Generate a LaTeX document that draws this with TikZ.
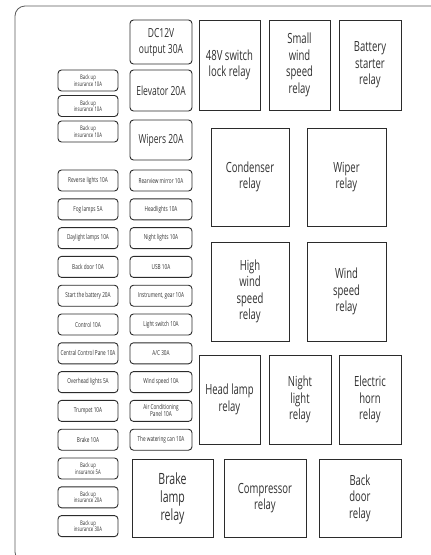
\documentclass[tikz,border=0pt]{standalone}
\usepackage{fontspec}
\setmainfont{Open Sans}[FakeStretch=0.68]
\usetikzlibrary{positioning}
\definecolor{cframe}{HTML}{5A5A5A}
\definecolor{cline}{HTML}{2B2B2B}
\definecolor{ctext}{HTML}{303030}
\tikzset{
  fusebox/.style={draw=cline, line width=0.9pt, rounded corners=3.5pt, minimum width=60pt, minimum height=21pt, inner sep=0pt, align=center, text=ctext, font=\fontsize{6.9}{7}\selectfont},
  spare/.style={fusebox, font=\fontsize{6.3}{6.3}\selectfont},
  midfuse/.style={fusebox, minimum width=62pt},
  bigfuse/.style={fusebox, minimum width=62pt, font=\fontsize{12.5}{16}\selectfont},
  relaybox/.style={draw=cline, line width=1pt, inner sep=0pt, align=center, text=ctext, font=\fontsize{14}{16.5}\selectfont},
}

\begin{document}
\begin{tikzpicture}[x=1pt, y=-1pt]
\useasboundingbox (0,0) rectangle (431,555);
\draw[cframe, line width=0.8pt, rounded corners=10pt] (15,6) rectangle (445,562);
% top fuses
\node[bigfuse, minimum height=44pt] (dc) at (161,42) {DC12V\\output 30A};
\node[bigfuse, minimum height=41pt] (elev) at (161,90.5) {Elevator 20A};
\node[bigfuse, minimum height=40pt] (wip) at (161,140) {Wipers 20A};
\foreach \i in {0,1,2}
  \node[spare] (bk\i) at (88,80.5+25.5*\i) {Back up\\insurance 10A};
% left fuse column
\foreach \lab [count=\i from 0] in {Reverse lights 10A, Fog lamps 5A, Daylight lamps 10A, Back door 10A, Start the battery 20A, Control 10A, Central Control Pane 10A, Overhead lights 5A, Trumpet 10A, Brake 10A}
  \node[fusebox] (lf\i) at (88,180.5+28.8*\i) {\lab};
\foreach \lab [count=\i from 10] in {5A, 20A, 30A}
  \node[spare] (lf\i) at (88,180.5+28.8*\i) {Back up\\insurance \lab};
% middle fuse column
\foreach \lab [count=\i from 0] in {Rearview mirror 10A, Headlights 10A, Night lights 10A, USB 10A, {Instrument, gear 10A}, Light switch 10A, A/C 30A, Wind speed 10A, {Air Conditioning\\Panel 10A}, The watering can 10A}
  \node[midfuse] (mf\i) at (161,180.5+28.8*\i) {\lab};
% relays
\node[relaybox, minimum width=61pt, minimum height=90pt] (sw48) at (229.5,65) {48V switch\\lock relay};
\node[relaybox, minimum width=61pt, minimum height=90pt] (swind) at (299.5,65) {Small\\wind\\speed\\relay};
\node[relaybox, minimum width=62pt, minimum height=90pt] (batt) at (370,65) {Battery\\starter\\relay};
\node[relaybox, minimum width=78pt, minimum height=98pt] (cond) at (250,177) {Condenser\\relay};
\node[relaybox, minimum width=79pt, minimum height=98pt] (wiper) at (346.5,177) {Wiper\\relay};
\node[relaybox, minimum width=78pt, minimum height=99pt] (hwind) at (250,291.5) {High\\wind\\speed\\relay};
\node[relaybox, minimum width=79pt, minimum height=99pt] (wspeed) at (346.5,291.5) {Wind\\speed\\relay};
\node[relaybox, minimum width=61pt, minimum height=89pt] (head) at (229.5,399.5) {Head lamp\\relay};
\node[relaybox, minimum width=62pt, minimum height=89pt] (night) at (300,399.5) {Night\\light\\relay};
\node[relaybox, minimum width=62pt, minimum height=89pt] (horn) at (370,399.5) {Electric\\horn\\relay};
\node[relaybox, minimum width=81pt, minimum height=78pt, font=\fontsize{15.5}{18}\selectfont] (brake) at (172.5,498) {Brake\\lamp\\relay};
\node[relaybox, minimum width=82pt, minimum height=78pt] (comp) at (265,498) {Compressor\\relay};
\node[relaybox, minimum width=82pt, minimum height=78pt] (bdoor) at (360,498) {Back\\door\\relay};
\end{tikzpicture}
\end{document}
